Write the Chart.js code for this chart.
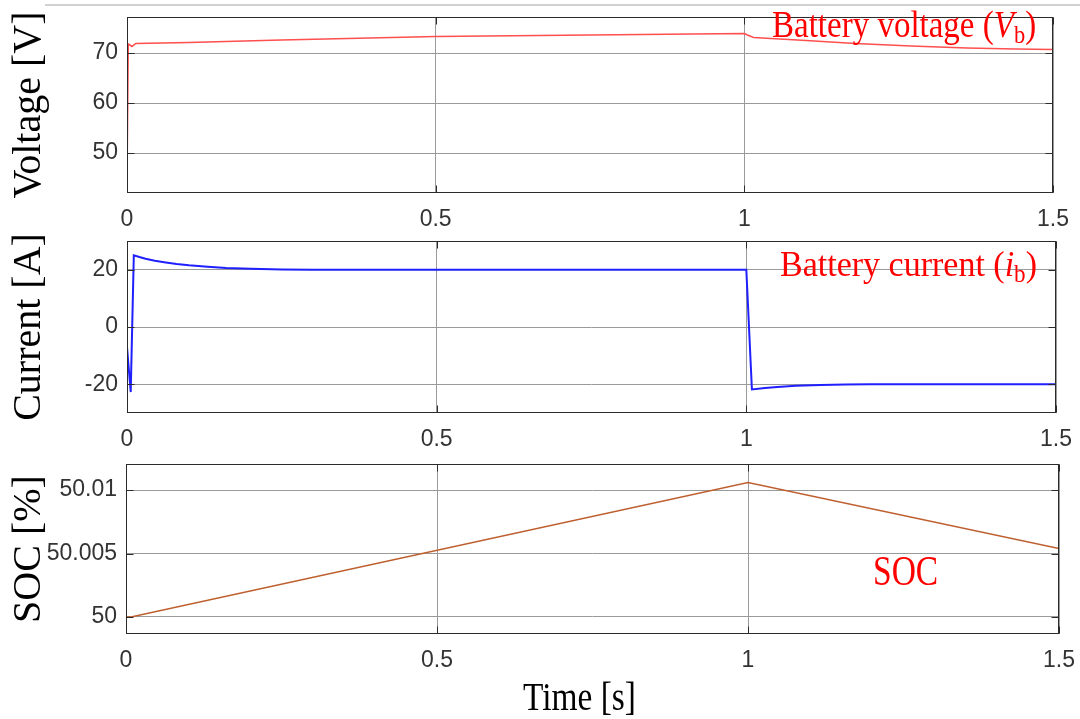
<!DOCTYPE html>
<html>
<head>
<meta charset="utf-8">
<title>Battery voltage, current and SOC</title>
<script src="https://cdn.jsdelivr.net/npm/chart.js@4"></script>
<style>
  html, body { margin: 0; padding: 0; background: #fff; }
  #page { position: relative; width: 1080px; height: 719px; overflow: hidden; }
  .panel { position: absolute; left: 0; width: 1080px; }
  .panel canvas { display: block; }
  #sep { position: absolute; left: 45px; right: 0; top: 4px; border-top: 2px solid #d2d2d2; }
</style>
</head>
<body>
<div id="page">
  <div id="sep"></div>
  <div class="panel" style="top:0px"><canvas id="voltChart" width="1080" height="235"></canvas></div>
  <div class="panel" style="top:235px"><canvas id="currChart" width="1080" height="220"></canvas></div>
  <div class="panel" style="top:455px"><canvas id="socChart" width="1080" height="264"></canvas></div>
</div>
<script>
// time axis (shared)
const timeTicks = [0, 0.5, 1, 1.5];
const timeLabels = ['0', '0.5', '1', '1.5'];

// battery voltage [V]
const voltT = [0, 0.002, 0.008, 0.014, 0.1, 0.25, 0.5, 0.75, 1.0, 1.005, 1.015, 1.1, 1.18, 1.27, 1.36, 1.44, 1.5];
const voltV = [45.4, 71.8, 71.3, 71.9, 72.1, 72.6, 73.3, 73.6, 73.9, 73.6, 73.1, 72.5, 71.9, 71.4, 71.0, 70.8, 70.7];
const voltTicks = [50, 60, 70];
const voltTickLabels = ['50', '60', '70'];

// battery current [A]
const currT = [0, 0.006, 0.011, 0.02, 0.03, 0.045, 0.06, 0.08, 0.1, 0.13, 0.16, 0.2, 0.25, 0.3, 0.5, 1.0,
               1.009, 1.03, 1.05, 1.08, 1.12, 1.16, 1.2, 1.3, 1.5];
const currI = [-7, -22.7, 25, 24.4, 23.8, 23.1, 22.6, 22.0, 21.5, 21.0, 20.6, 20.3, 20.1, 20.0, 20.0, 20.0,
               -21.8, -21.3, -20.9, -20.5, -20.2, -20.1, -20.0, -20.0, -20.0];
const currTicks = [-20, 0, 20];
const currTickLabels = ['-20', '0', '20'];

// state of charge [%]
const socT = [0, 0.008, 1.0, 1.5];
const socV = [50.0, 50.0, 50.0106, 50.0054];
const socTicks = [50, 50.005, 50.01];
const socTickLabels = ['50', '50.005', '50.01'];

const TICK_FONT = { family: 'Liberation Sans', size: 23 };

// box around the plot area + MATLAB style inward ticks
const frame = {
  id: 'frame',
  afterDraw(chart) {
    const { ctx, chartArea: a, scales: { x, y } } = chart;
    const L = Math.round(a.left) + 0.5, R = Math.round(a.right) - 0.5;
    const T = Math.round(a.top) + 0.5, B = Math.round(a.bottom) - 0.5;
    ctx.save();
    ctx.strokeStyle = '#2b2b2b';
    ctx.lineWidth = 1;
    ctx.strokeRect(L, T, R - L, B - T);
    ctx.beginPath();
    y.ticks.forEach(t => {
      const py = Math.round(y.getPixelForValue(t.value)) + 0.5;
      ctx.moveTo(L, py); ctx.lineTo(L + 7, py);
      ctx.moveTo(R, py); ctx.lineTo(R - 7, py);
    });
    x.ticks.forEach(t => {
      const px = Math.round(x.getPixelForValue(t.value)) + 0.5;
      ctx.moveTo(px, B); ctx.lineTo(px, B - 7);
      ctx.moveTo(px, T); ctx.lineTo(px, T + 7);
    });
    ctx.stroke();
    ctx.restore();
  }
};

// red annotation texts (italic symbol + subscript)
const notes = {
  id: 'notes',
  afterDraw(chart, args, opts) {
    const ctx = chart.ctx;
    (opts.items || []).forEach(item => {
      ctx.save();
      ctx.fillStyle = item.color;
      ctx.textAlign = 'left';
      ctx.textBaseline = 'alphabetic';
      ctx.scale(1, item.stretch);
      let x = item.x;
      item.runs.forEach(r => {
        const size = r.sub ? item.size * 0.68 : item.size;
        ctx.font = (r.italic ? 'italic ' : '') + size + 'px "Liberation Serif"';
        const y = item.y + (r.sub ? item.size * 0.19 : 0);
        ctx.fillText(r.text, x, y / item.stretch);
        x += ctx.measureText(r.text).width;
      });
      ctx.restore();
    });
  }
};

function makePanel(id, p) {
  const data = p.t.map((t, i) => ({ x: t, y: p.v[i] }));
  return new Chart(document.getElementById(id), {
    type: 'line',
    data: {
      datasets: [{
        data: data,
        borderColor: p.color,
        borderWidth: p.width,
        pointRadius: 0,
        tension: 0,
        fill: false
      }]
    },
    options: {
      responsive: false,
      animation: false,
      devicePixelRatio: 1,
      layout: { padding: { top: p.padTop, right: p.padRight, bottom: 0, left: 0 } },
      plugins: {
        legend: { display: false },
        tooltip: { enabled: false },
        notes: { items: p.notes }
      },
      scales: {
        x: {
          type: 'linear',
          min: 0,
          max: 1.5,
          afterFit: s => { s.height = p.xHeight; s.paddingLeft = 0; s.paddingRight = 0; },
          afterBuildTicks: s => { s.ticks = timeTicks.map(v => ({ value: v })); },
          ticks: {
            font: TICK_FONT,
            color: '#333',
            padding: 13,
            maxRotation: 0,
            callback: (v) => timeLabels[timeTicks.indexOf(v)]
          },
          grid: { color: '#9a9a9a', lineWidth: 1, drawTicks: false },
          border: { display: false }
        },
        y: {
          type: 'linear',
          min: p.min,
          max: p.max,
          afterFit: s => { s.width = p.yWidth; s.paddingTop = 0; s.paddingBottom = 0; },
          afterBuildTicks: s => { s.ticks = p.ticks.map(v => ({ value: v })); },
          ticks: {
            font: TICK_FONT,
            color: '#333',
            padding: 9,
            callback: (v) => p.tickLabels[p.ticks.indexOf(v)]
          },
          grid: { color: '#9a9a9a', lineWidth: 1, drawTicks: false },
          border: { display: false },
          title: {
            display: true,
            text: p.title,
            color: '#000',
            font: { family: 'Liberation Serif', size: 40 },
            padding: { top: 5, bottom: 0 }
          }
        }
      }
    },
    plugins: [frame, notes]
  });
}

makePanel('voltChart', {
  t: voltT, v: voltV, color: '#ff4f4f', width: 1.6,
  min: 42, max: 77.2, ticks: voltTicks, tickLabels: voltTickLabels,
  title: 'Voltage [V]', padTop: 17, padRight: 27, yWidth: 127, xHeight: 42,
  notes: [{
    x: 772, y: 37, size: 33, stretch: 1.15, color: '#ff0000',
    runs: [{ text: 'Battery voltage (' }, { text: 'V', italic: true }, { text: 'b', sub: true }, { text: ')' }]
  }]
});

makePanel('currChart', {
  t: currT, v: currI, color: '#1f1fff', width: 2,
  min: -30, max: 30, ticks: currTicks, tickLabels: currTickLabels,
  title: 'Current [A]', padTop: 6, padRight: 24, yWidth: 127, xHeight: 42,
  notes: [{
    x: 780, y: 41, size: 34, stretch: 1.08, color: '#ff0000',
    runs: [{ text: 'Battery current (' }, { text: 'i', italic: true }, { text: 'b', sub: true }, { text: ')' }]
  }]
});

makePanel('socChart', {
  t: socT, v: socV, color: '#bf5f2e', width: 1.5,
  min: 49.99866, max: 50.01205, ticks: socTicks, tickLabels: socTickLabels,
  title: 'SOC [%]', padTop: 9, padRight: 21, yWidth: 126, xHeight: 85,
  notes: [
    { x: 873, y: 130, size: 33.5, stretch: 1.25, color: '#ff0000', runs: [{ text: 'SOC' }] },
    { x: 523, y: 255, size: 33.4, stretch: 1.22, color: '#000', runs: [{ text: 'Time [s]' }] }
  ]
});
</script>
</body>
</html>
